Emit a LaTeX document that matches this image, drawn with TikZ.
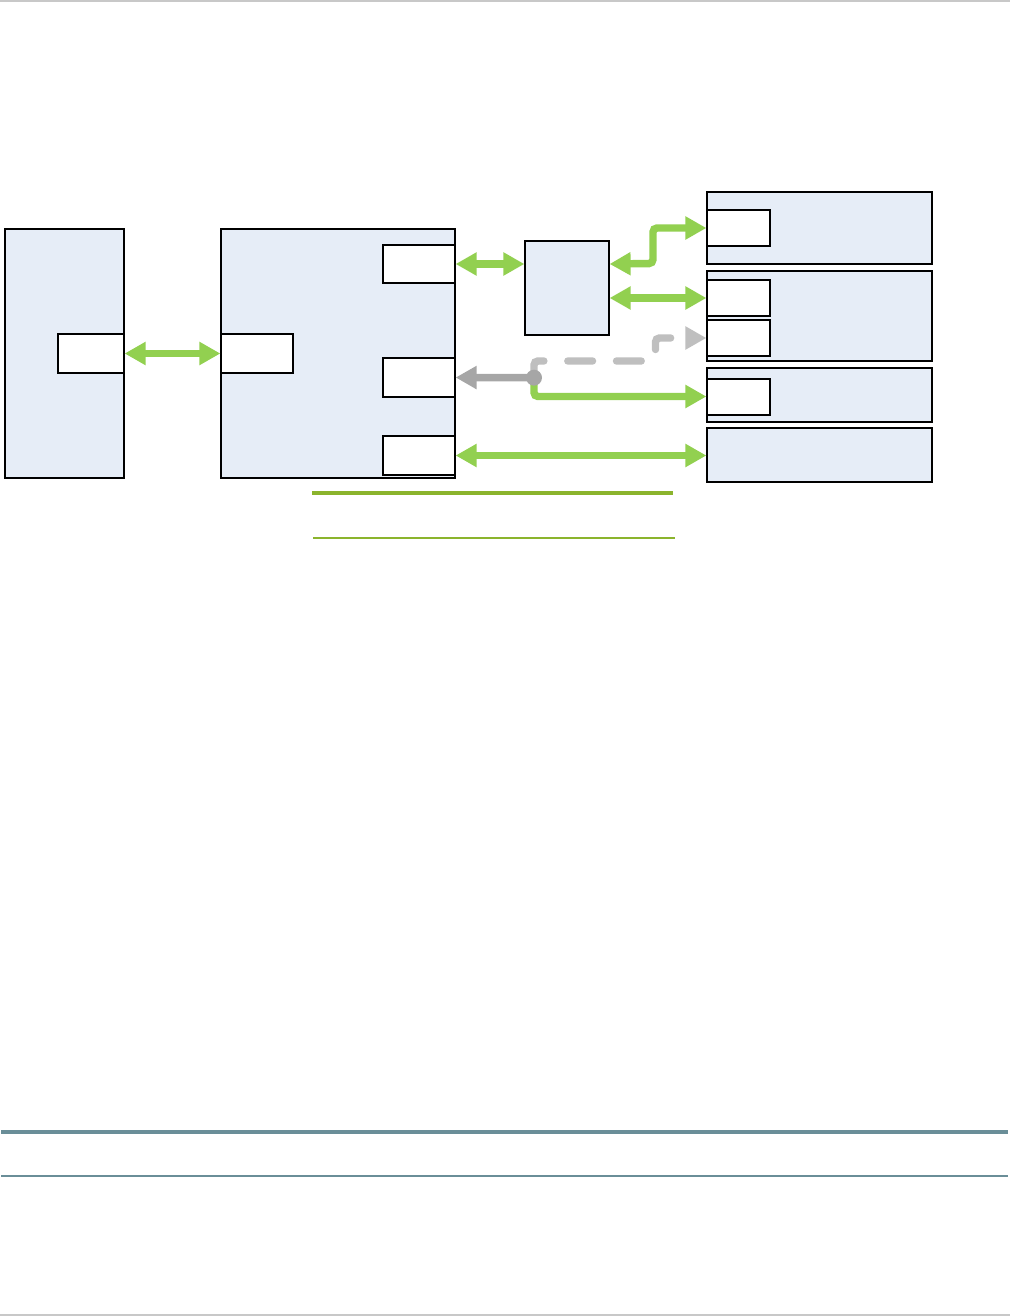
\documentclass[tikz,border=0pt]{standalone}
\usetikzlibrary{arrows.meta,fit}
\definecolor{boxfill}{RGB}{230,237,247}
\definecolor{arrgreen}{RGB}{146,208,80}
\definecolor{arrgray}{RGB}{166,166,166}
\definecolor{dashgray}{RGB}{191,191,191}
\definecolor{olive}{RGB}{139,180,45}
\definecolor{tealrule}{RGB}{106,142,152}
\definecolor{rulegray}{RGB}{200,200,200}
\tikzset{
  bigtri/.tip={Triangle[length=15.75pt, width=16.5pt]},
  blockbox/.style={draw=black, line width=0.9pt, fill=boxfill, inner sep=0pt},
  portbox/.style={draw=black, line width=0.9pt, fill=white, inner sep=0pt},
  gtwo/.style={draw=arrgreen, line width=5.6pt, bigtri-bigtri},
  gone/.style={draw=arrgreen, line width=5.6pt, rounded corners=3pt, -bigtri},
  grayarr/.style={draw=arrgray, line width=5.6pt, -bigtri},
  graydash/.style={draw=dashgray, line width=5.6pt, line cap=round, rounded corners=3pt, dash pattern=on 18.5pt off 18pt, -{Triangle[length=15.75pt, width=16.5pt, line cap=butt]}},
}
\begin{document}
\begin{tikzpicture}[x=0.75pt, y=-0.75pt]
\useasboundingbox (0,0) rectangle (1010,1316);
% page rules
\fill[rulegray] (0,0) rectangle (1010,2);
\fill[rulegray] (0,1314) rectangle (1010,1316);
\fill[tealrule] (1,1130) rectangle (1008,1134);
\fill[tealrule] (1,1174.5) rectangle (1008,1176.5);
% olive rules
\fill[olive] (312,491) rectangle (673,495);
\fill[olive] (313,537) rectangle (675,539);

% left block
\node[blockbox, fit={(5,229) (124,478)}] (L) {};
\node[portbox, fit={(58,334) (124,373)}] (Lp) {};
% middle block
\node[blockbox, fit={(221,229) (455,478)}] (M) {};
\node[portbox, fit={(221,334) (293,373)}] (Mp) {};
\node[portbox, fit={(383,245) (455,283)}] (M1) {};
\node[portbox, fit={(383,358) (455,397)}] (M2) {};
\node[portbox, fit={(383,436) (455,475)}] (M3) {};
% centre block
\node[blockbox, fit={(525,241) (609,335)}] (C) {};
% right blocks
\node[blockbox, fit={(707,192) (932,264)}] (R1) {};
\node[portbox, fit={(707,210) (770,246)}] (R1p) {};
\node[blockbox, fit={(707,271) (932,361)}] (R2) {};
\node[portbox, fit={(707,280) (770,316)}] (R2a) {};
\node[portbox, fit={(707,320) (770,356)}] (R2b) {};
\node[blockbox, fit={(707,368) (932,422)}] (R3) {};
\node[portbox, fit={(707,379) (770,415)}] (R3p) {};
\node[blockbox, fit={(707,428) (932,482)}] (R4) {};

% connectors
\coordinate (D) at (534,377.7);
\coordinate (b1) at (653,263.5);
\coordinate (b2) at (653,228);
\coordinate (d1) at (534,361);
\coordinate (d2) at (655.5,361);
\coordinate (d3) at (655.5,338);
\coordinate (g1) at (534,396.5);

\draw[gtwo] (Lp.east) -- (Mp.west);
\draw[gtwo] (M1.east) -- (M1.east -| C.west);
\draw[gone, bigtri-bigtri] (M1.east -| C.east) -- (b1) -- (b2) -- (R1p.west);
\draw[gtwo] (C.east |- R2a.west) -- (R2a.west);
\draw[graydash] (D) -- (d1) -- (d2) -- (d3) -- (R2b.west);
\draw[gone] (D) -- (g1) -- (g1 -| R3p.west);
\draw[grayarr] (D) -- (M2.east);
\fill[arrgray] (D) circle (6pt);
\draw[gtwo] (M3.east) -- (M3.east -| R4.west);
\end{tikzpicture}
\end{document}
